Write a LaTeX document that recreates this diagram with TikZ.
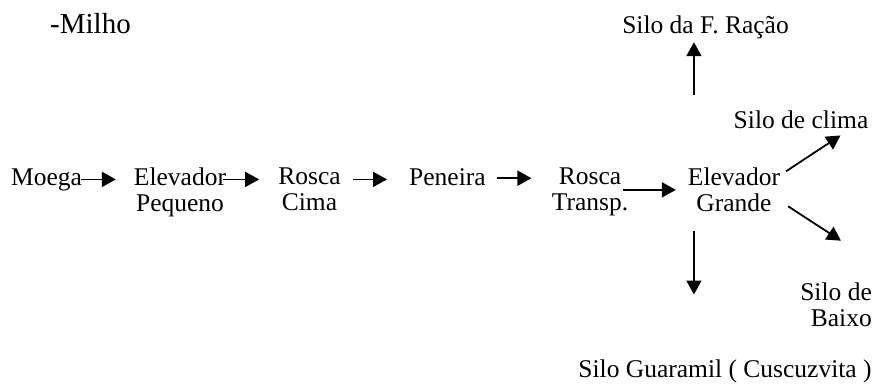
\documentclass[tikz,border=0pt]{standalone}
\usepackage{fontspec}
\setmainfont{Liberation Serif}
\usetikzlibrary{arrows.meta,calc}
\begin{document}
\begin{tikzpicture}[x=1pt,y=-1pt,
  lbl/.style={inner sep=0pt,font=\rmfamily\fontsize{25.5}{26}\selectfont},
  two/.style={lbl,align=center,anchor=north},
  arr/.style={line width=1.8pt,-{Triangle[length=14pt,width=15pt]}}]
\useasboundingbox[fill=white] (0,0) rectangle (874,388);
% nodes
\node[inner sep=0pt,font=\rmfamily\fontsize{29}{32}\selectfont,anchor=base west] (milho) at (50,33) {-Milho};
\node[lbl,anchor=base west] (moega) at (11,185) {Moega};
\node[two] (elevp) at (180,167.6) {Elevador\\Pequeno};
\node[two] (rosca1) at (309.5,167.6) {Rosca\\Cima};
\node[lbl,anchor=base west] (peneira) at (409,185) {Peneira};
\node[two] (rosca2) at (590,167.6) {Rosca\\Transp.};
\node[two] (elevg) at (734,167.6) {Elevador\\Grande};
\node[lbl,anchor=base] (racao) at (705.5,33) {Silo da F. Ração};
\node[lbl,anchor=base] (clima) at (801,128) {Silo de clima};
\node[lbl,align=right,anchor=north east] (baixo) at (872,282.6) {Silo de\\Baixo};
\node[lbl,anchor=base] (guaramil) at (725,377) {Silo Guaramil ( Cuscuzvita )};
% main chain
\draw[arr,shorten <=-1.4pt,shorten >=17.9pt] (moega.east) -- (moega.east -| elevp.west);
\draw[arr,shorten <=-3.2pt,shorten >=19pt] (elevp.east |- moega.east) -- (rosca1.west |- moega.east);
\draw[arr,shorten <=12pt,shorten >=22pt] (rosca1.east |- moega.east) -- (peneira.west |- moega.east);
\draw[arr,shorten <=11pt,shorten >=20.2pt] ($(peneira.east)+(0,1.5)$) -- ($(rosca2.west |- peneira.east)+(0,1.5)$);
\draw[arr,shorten <=-4.9pt,shorten >=11.9pt] ($(rosca2.east)+(0,-2)$) -- ($(rosca2.east -| elevg.west)+(0,-2)$);
% branches
\coordinate (upstart) at ($(elevg.north west)+(6.15,-72.9)$);
\draw[arr,shorten >=3.6pt] (upstart) -- (upstart |- racao.south);
\coordinate (downstart) at ($(elevg.south west)+(6.15,19)$);
\draw[arr,shorten >=64.6pt] (downstart) -- (downstart |- guaramil.north);
\draw[arr] ($(elevg.east)+(5.85,-18.5)$) -- ($(clima.south east)+(-28,7)$);
\draw[arr] ($(elevg.east)+(7.85,16.5)$) -- ($(baixo.north east)+(-31,-41.9)$);
\end{tikzpicture}
\end{document}
